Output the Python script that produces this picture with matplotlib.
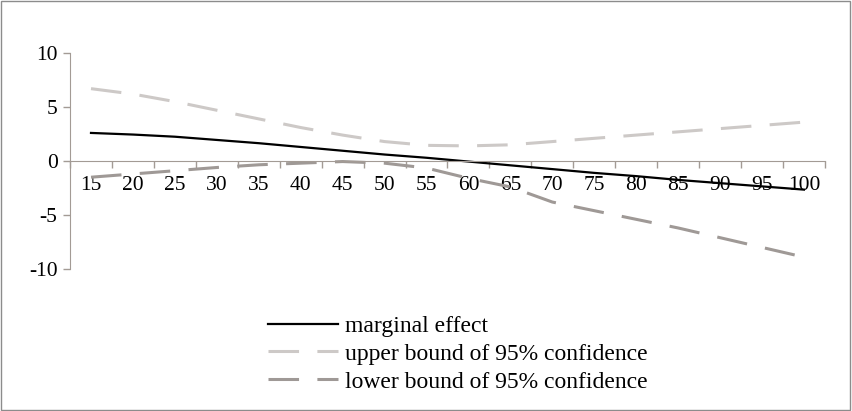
import numpy as np
import matplotlib.pyplot as plt
from matplotlib.patches import Rectangle

plt.rcParams['font.family'] = ['Liberation Serif', 'DejaVu Serif']

# data
categories = ['15', '20', '25', '30', '35', '40', '45', '50', '55',
              '60', '65', '70', '75', '80', '85', '90', '95', '100']
marginal = [2.6, 2.45, 2.25, 1.95, 1.65, 1.3, 0.95, 0.6, 0.3,
            -0.05, -0.4, -0.75, -1.1, -1.4, -1.75, -2.05, -2.35, -2.65]
upper = [6.7, 6.2, 5.5, 4.7, 3.9, 3.1, 2.4, 1.8, 1.45,
         1.4, 1.5, 1.8, 2.1, 2.4, 2.7, 3.0, 3.3, 3.6]
lower = [-1.5, -1.2, -0.9, -0.6, -0.35, -0.2, -0.05, -0.2, -0.65,
         -1.6, -2.4, -3.8, -4.6, -5.4, -6.2, -7.1, -8.0, -8.9]

axis_col = '#a39b95'

fig = plt.figure(figsize=(8.52, 4.11), dpi=100)
ax = fig.add_axes([0.0822, 0.3455, 0.886, 0.5255])

x = np.arange(len(categories))
ax.plot(x, marginal, color='black', lw=1.6, label='marginal effect')
ax.plot(x, upper, color='#cdc9c7', lw=2.2, dashes=(10, 6),
        label='upper bound of 95% confidence')
ax.plot(x, lower, color='#9f9996', lw=2.2, dashes=(10, 6),
        label='lower bound of 95% confidence')

ax.set_xlim(-0.5, len(categories) - 0.5)
ax.set_ylim(-10, 10)
ax.set_yticks([-10, -5, 0, 5, 10])
ax.set_yticklabels(['-10', '-5', '0', '5', '10'])

# category axis: marks between categories, labels centered
ax.set_xticks(x)
ax.set_xticklabels(categories)
ax.set_xticks(np.arange(-0.5, len(categories)), minor=True)
ax.tick_params(axis='x', which='major', length=0, pad=11, labelsize=15.5)
ax.tick_params(axis='x', which='minor', length=5, direction='out',
               color=axis_col, width=1)
ax.tick_params(axis='y', length=5, direction='out', color=axis_col,
               width=1, labelsize=15.5, pad=4)

ax.spines['bottom'].set_position(('data', 0))
ax.spines['bottom'].set_color(axis_col)
ax.spines['left'].set_color(axis_col)
ax.spines['top'].set_visible(False)
ax.spines['right'].set_visible(False)
ax.set_facecolor('none')

leg = fig.legend(loc='upper left', bbox_to_anchor=(0.3146, 0.233),
                 frameon=False, fontsize=17, handlelength=2.95,
                 labelspacing=0.27, handletextpad=0.3, borderpad=0,
                 borderaxespad=0)

fig.patches.append(Rectangle((0.001, 0.002), 0.997, 0.996,
                             transform=fig.transFigure, fill=False,
                             edgecolor='#8c8c8c', lw=1))

fig.savefig('out.png', dpi=100)
